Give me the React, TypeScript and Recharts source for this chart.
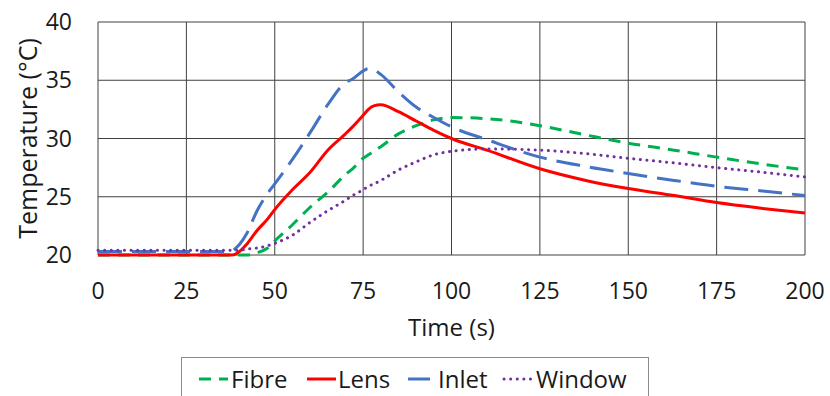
import { LineChart, Line, XAxis, YAxis, CartesianGrid } from "recharts";

const FONT = "'Open Sans', sans-serif";

const times = [0, 10, 20, 30, 36, 38, 40, 42, 45, 48, 50, 55, 60, 65, 70, 72, 75, 76.5, 78, 80, 85, 90, 95, 100, 110, 125, 138, 150, 163, 175, 188, 200];
const fibre = [20.0, 20.0, 20.0, 20.0, 20.0, 20.0, 20.0, 20.0, 20.2, 20.6, 21.2, 22.6, 24.1, 25.4, 26.9, 27.4, 28.3, 28.6, 28.9, 29.3, 30.4, 31.1, 31.6, 31.8, 31.7, 31.1, 30.3, 29.6, 29.0, 28.4, 27.8, 27.3];
const lens = [20.0, 20.0, 20.0, 20.0, 20.0, 20.0, 20.3, 20.9, 22.1, 23.1, 23.9, 25.6, 27.1, 29.0, 30.4, 31.0, 32.0, 32.5, 32.8, 32.9, 32.3, 31.5, 30.7, 30.0, 29.0, 27.4, 26.4, 25.7, 25.1, 24.5, 24.0, 23.6];
const inlet = [20.3, 20.3, 20.3, 20.3, 20.3, 20.4, 20.9, 21.8, 23.8, 25.3, 26.1, 28.2, 30.5, 32.9, 34.8, 35.1, 35.8, 36.0, 35.9, 35.5, 34.0, 32.7, 31.8, 31.0, 29.9, 28.4, 27.6, 27.0, 26.4, 25.9, 25.5, 25.1];
const windowT = [20.4, 20.4, 20.4, 20.4, 20.4, 20.4, 20.4, 20.5, 20.6, 20.8, 21.0, 21.7, 22.8, 23.8, 24.7, 25.1, 25.6, 25.9, 26.1, 26.4, 27.3, 28.0, 28.6, 28.9, 29.1, 29.0, 28.7, 28.3, 27.9, 27.5, 27.1, 26.7];

const xTicks = [0, 25, 50, 75, 100, 125, 150, 175, 200];
const yTicks = [20, 25, 30, 35, 40];

const series = [
  { key: "fibre", name: "Fibre", color: "#00b050", dash: "12 8", cap: "butt" as const },
  { key: "lens", name: "Lens", color: "#ff0000", dash: undefined, cap: "butt" as const },
  { key: "inlet", name: "Inlet", color: "#4472c4", dash: "24 10", cap: "butt" as const },
  { key: "window", name: "Window", color: "#7030a0", dash: "0.1 6.5", cap: "round" as const },
];

const data = times.map((t, i) => ({
  t,
  fibre: fibre[i],
  lens: lens[i],
  inlet: inlet[i],
  window: windowT[i],
}));

const tickStyle = { fontSize: 23, fill: "#1a1a1a", fontFamily: FONT };

// legend item x positions inside the box: [icon start, icon end, text start]
const legendPos = [
  [17, 46, 49],
  [125, 154, 156],
  [226, 248, 256],
  [322, 352, 354],
];

function ChartLegend() {
  return (
    <div
      style={{
        position: "absolute",
        left: 181,
        top: 357,
        width: 468,
        height: 42,
        border: "1px solid #8c8c8c",
        background: "#fff",
        boxSizing: "border-box",
      }}
    >
      <svg width={468} height={42} style={{ display: "block" }}>
        {series.map((s, i) => {
          const [a, b, tx] = legendPos[i];
          return (
            <g key={s.key}>
              <line
                x1={a}
                x2={b}
                y1={21}
                y2={21}
                stroke={s.color}
                strokeWidth={3}
                strokeDasharray={s.dash}
                strokeLinecap={s.cap}
              />
              <text x={tx} y={29.5} fontSize={24} fontFamily={FONT} fill="#1a1a1a">
                {s.name}
              </text>
            </g>
          );
        })}
      </svg>
    </div>
  );
}

export default function App() {
  return (
    <div style={{ position: "relative", width: 830, height: 396, background: "#fff", overflow: "hidden" }}>
      <style>{"body{margin:0}"}</style>
      <LineChart width={830} height={396} data={data} margin={{ top: 22, right: 25, left: 0, bottom: 60 }}>
        <CartesianGrid stroke="#404040" strokeWidth={1} />
        <XAxis
          dataKey="t"
          type="number"
          domain={[0, 200]}
          ticks={xTicks}
          axisLine={false}
          tickLine={false}
          tickSize={0}
          tickMargin={28}
          height={81}
          tick={tickStyle}
          label={{ value: "Time (s)", position: "insideBottom", offset: 0, style: { fontSize: 24, fill: "#1a1a1a", fontFamily: FONT } }}
        />
        <YAxis
          type="number"
          domain={[20, 40]}
          ticks={yTicks}
          axisLine={false}
          tickLine={false}
          tickSize={0}
          tickMargin={26}
          width={98}
          tick={tickStyle}
          label={{ value: "Temperature (°C)", angle: -90, position: "center", dx: -21, style: { fontSize: 25, fill: "#1a1a1a", fontFamily: FONT, textAnchor: "middle" } }}
        />
        {series.map((s) => (
          <Line
            key={s.key}
            dataKey={s.key}
            name={s.name}
            type="monotone"
            stroke={s.color}
            strokeWidth={3}
            strokeDasharray={s.dash}
            strokeLinecap={s.cap}
            dot={false}
            activeDot={false}
            isAnimationActive={false}
          />
        ))}
      </LineChart>
      <ChartLegend />
    </div>
  );
}
